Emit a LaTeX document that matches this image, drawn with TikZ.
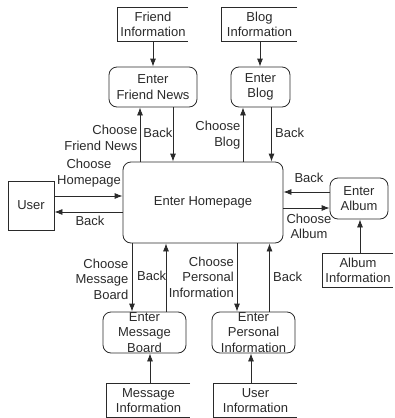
\documentclass[tikz,border=0pt]{standalone}
\usepackage{fontspec}
\setmainfont{Liberation Sans}
\usetikzlibrary{arrows.meta}
\definecolor{ink}{HTML}{2A2A2A}
\begin{document}
\begin{tikzpicture}[x=1pt,y=-1pt,
  every node/.style={font=\fontsize{13}{15.5}\selectfont, text=ink},
  proc/.style={draw=ink, line width=0.8pt, rounded corners=8pt, align=center, inner sep=0pt},
  extent/.style={draw=ink, line width=0.8pt, align=center, inner sep=0pt},
  store/.style={align=center, inner sep=0pt},
  lbl/.style={inner sep=0.5pt},
  arr/.style={draw=ink, line width=0.8pt, -{Latex[length=8pt,width=6pt]}},
  storeline/.style={draw=ink, line width=0.8pt}]
\useasboundingbox (0,0) rectangle (395,418);

% processes
\node[proc, minimum width=88pt, minimum height=40pt] (fn) at (153,87) {Enter\\Friend News};
\node[proc, minimum width=59pt, minimum height=40pt] (bl) at (260.5,87) {Enter\\Blog};
\node[proc, minimum width=160pt, minimum height=81pt] (hp) at (203,202.5) {Enter Homepage};
\node[proc, minimum width=58pt, minimum height=41pt] (al) at (359,198.5) {Enter\\Album};
\node[proc, minimum width=83pt, minimum height=41pt] (mb) at (144.5,332.5) {Enter\\Message\\Board};
\node[proc, minimum width=83pt, minimum height=41pt] (pi) at (253.5,332.5) {Enter\\Personal\\Information};

% external entity
\node[extent, minimum width=46pt, minimum height=49pt] (user) at (31,205.5) {User};

% data stores (open on the right)
\node[store, minimum width=70pt, minimum height=33pt] (fi) at (153,24.5) {Friend\\Information};
\node[store, minimum width=75pt, minimum height=33pt] (bi) at (259.5,24.5) {Blog\\Information};
\node[store, minimum width=70pt, minimum height=33pt] (ai) at (358,270.5) {Album\\Information};
\node[store, minimum width=83pt, minimum height=33pt] (mi) at (148.5,400.5) {Message\\Information};
\node[store, minimum width=83pt, minimum height=33pt] (ui) at (255.5,400.5) {User\\Information};
\foreach \s in {fi,bi,ai,mi,ui}
  \draw[storeline] (\s.north east) -- (\s.north west) -- (\s.south west) -- (\s.south east);

% store -> process flows
\draw[arr] (fi.south) -- (fn.north);
\draw[arr] ([xshift=0.5pt]bi.south) -- ([xshift=0.5pt]bi.south |- bl.north);
\draw[arr] ([xshift=2pt]ai.north) -- ([xshift=2pt]ai.north |- al.south);
\draw[arr] ([xshift=1.5pt]mi.north) -- ([xshift=1.5pt]mi.north |- mb.south);
\draw[arr] ([xshift=-4.5pt]ui.north) -- ([xshift=-4.5pt]ui.north |- pi.south);

% homepage <-> friend news
\draw[arr] ([xshift=-13pt]fn.south |- hp.north) -- ([xshift=-13pt]fn.south);
\draw[arr] ([xshift=20pt]fn.south) -- ([xshift=20pt]fn.south |- hp.north);
% homepage <-> blog
\draw[arr] ([xshift=-17.5pt]bl.south |- hp.north) -- ([xshift=-17.5pt]bl.south);
\draw[arr] ([xshift=11pt]bl.south) -- ([xshift=11pt]bl.south |- hp.north);
% user <-> homepage
\draw[arr] ([yshift=9.5pt]user.east) -- ([yshift=9.5pt]user.east -| hp.west);
\draw[arr] ([yshift=-6.5pt]user.east -| hp.west) -- ([yshift=-6.5pt]user.east);
% album <-> homepage
\draw[arr] ([yshift=6.5pt]al.west) -- ([yshift=6.5pt]al.west -| hp.east);
\draw[arr] ([yshift=-9.5pt]al.west -| hp.east) -- ([yshift=-9.5pt]al.west);
% homepage <-> message board
\draw[arr] ([xshift=-12.5pt]mb.north |- hp.south) -- ([xshift=-12.5pt]mb.north);
\draw[arr] ([xshift=21.5pt]mb.north) -- ([xshift=21.5pt]mb.north |- hp.south);
% homepage <-> personal information
\draw[arr] ([xshift=-16.5pt]pi.north |- hp.south) -- ([xshift=-16.5pt]pi.north);
\draw[arr] ([xshift=16pt]pi.north) -- ([xshift=16pt]pi.north |- hp.south);

% flow labels
\node[lbl, align=right, anchor=east] (l1) at (138,138) {Choose\\Friend News};
\node[lbl, anchor=east] (l2) at (173,133) {Back};
\node[lbl, align=right, anchor=east] (l3) at (241,135) {Choose\\Blog};
\node[lbl, anchor=west] (l4) at (274.5,133) {Back};
\node[lbl, align=center] (l5) at (89,173) {Choose\\Homepage};
\node[lbl] (l6) at (90,221) {Back};
\node[lbl] (l7) at (309,178) {Back};
\node[lbl, align=center] (l8) at (309,226.5) {Choose\\Album};
\node[lbl, align=right, anchor=east] (l9) at (129,279) {Choose\\Message\\Board};
\node[lbl, anchor=west] (l10) at (136.5,276) {Back};
\node[lbl, align=right, anchor=east] (l11) at (234.5,277) {Choose\\Personal\\Information};
\node[lbl, anchor=west] (l12) at (272.5,277) {Back};
\end{tikzpicture}
\end{document}
